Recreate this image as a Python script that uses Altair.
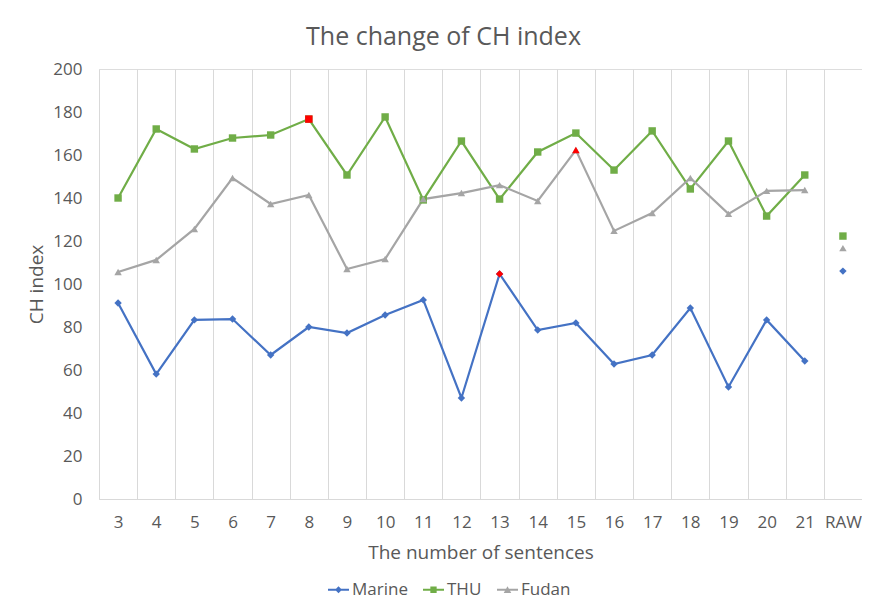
import altair as alt
import pandas as pd

categories = ["3", "4", "5", "6", "7", "8", "9", "10", "11", "12", "13", "14", "15",
              "16", "17", "18", "19", "20", "21", "RAW"]
marine = [91.2, 58.1, 83.3, 83.7, 67.0, 80.0, 77.2, 85.6, 92.6, 47.0, 104.7, 78.6, 81.9,
          62.8, 67.0, 88.8, 52.1, 83.3, 64.2, 106.0]
thu = [140.0, 172.1, 162.8, 167.9, 169.3, 176.7, 150.7, 177.7, 139.1, 166.5, 139.5, 161.4, 170.2,
       153.0, 171.2, 144.2, 166.5, 131.6, 150.7, 122.3]
fudan = [105.6, 111.2, 125.6, 149.3, 137.2, 141.4, 107.0, 111.6, 139.5, 142.3, 146.0, 138.6, 162.3,
         124.7, 133.0, 149.3, 132.6, 143.3, 143.7, 116.7]
series_names = ["Marine", "THU", "Fudan"]
series_colors = ["#4472C4", "#70AD47", "#A5A5A5"]
series_shapes = ["diamond", "square", "triangle-up"]
# legend symbols: a short line with the marker in its middle
LINE = "M-1,-0.09 L1,-0.09 L1,0.09 L-1,0.09 Z "
legend_shapes = [LINE + "M0,-0.33 L0.33,0 L0,0.33 L-0.33,0 Z",
                 LINE + "M-0.3,-0.3 L0.3,-0.3 L0.3,0.3 L-0.3,0.3 Z",
                 LINE + "M0,-0.33 L0.36,0.3 L-0.36,0.3 Z"]
# highlighted (maximum) points drawn in red
highlight = [("Marine", "13"), ("THU", "8"), ("Fudan", "15")]

rows = []
for name, vals in zip(series_names, [marine, thu, fudan]):
    for c, v in zip(categories, vals):
        rows.append({"x": c, "value": v, "series": name,
                     "connected": c != "RAW",
                     "hl": (name, c) in highlight})
df = pd.DataFrame(rows)

FONT = "Open Sans"
GREY = "#595959"

xenc = alt.X("x:N", sort=categories, bandPosition=0.5,
             scale=alt.Scale(type="band", domain=categories, paddingInner=0, paddingOuter=0),
             axis=alt.Axis(title="The number of sentences", labelAngle=0, tickBand="extent",
                           grid=True, gridColor="#d9d9d9", ticks=False,
                           domainColor="#d9d9d9", labelFontSize=17, labelColor=GREY,
                           labelFont=FONT, labelPadding=15, titleFont=FONT, titleFontSize=19,
                           titleColor=GREY, titleFontWeight="normal", titlePadding=13))
yenc = alt.Y("value:Q", scale=alt.Scale(domain=[0, 200]),
             axis=alt.Axis(title="CH index", values=list(range(0, 201, 20)), grid=False,
                           domain=False, ticks=False, labelFontSize=17, labelColor=GREY,
                           labelFont=FONT, labelPadding=17, titleFont=FONT, titleFontSize=19,
                           titleColor=GREY, titleFontWeight="normal", titlePadding=6))

color_scale = alt.Scale(domain=series_names, range=series_colors)
shape_scale = alt.Scale(domain=series_names, range=series_shapes)

base = alt.Chart(df)
lines = base.transform_filter("datum.connected").mark_line(strokeWidth=2.2).encode(
    x=xenc, y=yenc, color=alt.Color("series:N", scale=color_scale, legend=None),
    detail="series:N")
points = base.mark_point(filled=True, size=55, opacity=1).encode(
    x=xenc, y=yenc, color=alt.Color("series:N", scale=color_scale, legend=None),
    shape=alt.Shape("series:N", scale=shape_scale, legend=None))
reds = base.transform_filter("datum.hl").mark_point(filled=True, size=55, opacity=1,
                                                      color="#FF0000").encode(
    x=xenc, y=yenc, shape=alt.Shape("series:N", scale=shape_scale, legend=None))

leg = alt.Legend(title=None, orient="none", direction="horizontal", legendX=229,
                 legendY=510, labelFontSize=17, labelColor=GREY, labelFont=FONT,
                 symbolSize=441, symbolStrokeWidth=0, labelOffset=3, columnPadding=15)
legend_layer = base.transform_filter("false").mark_point(filled=True, opacity=1).encode(
    x=xenc, y=yenc,
    color=alt.Color("series:N", scale=color_scale, legend=leg),
    shape=alt.Shape("series:N", scale=alt.Scale(domain=series_names, range=legend_shapes),
                    legend=leg))

chart = alt.layer(lines, points, reds, legend_layer).resolve_scale(
    color="independent", shape="independent"
).properties(
    width=763, height=430,
    title=alt.TitleParams("The change of CH index", fontSize=25, color=GREY, font=FONT,
                          fontWeight="normal", anchor="middle", offset=10, dx=-37),
    autosize=alt.AutoSizeParams(type="none"),
    padding={"left": 91, "top": 61, "right": 0, "bottom": 103},
).configure_view(stroke=None).configure(background="white")

chart.save("out.html", embed_options={"renderer": "svg", "actions": False})
